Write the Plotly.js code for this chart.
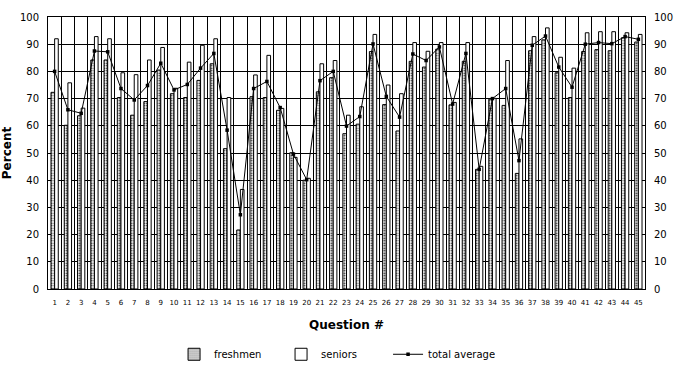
<!DOCTYPE html>
<html>
<head>
<meta charset="utf-8">
<script src="https://cdn.plot.ly/plotly-3.0.1.min.js"></script>
<style>html,body{margin:0;padding:0;background:#fff;}#chart{width:681px;height:381px;}</style>
</head>
<body>
<div id="chart"></div>
<script>
const questions = Array.from({length: 45}, (_, i) => String(i + 1));
const freshmen = [72.3, 60.2, 63.7, 84.2, 84.2, 70.4, 63.9, 68.9, 80.5, 71.8,
  70.4, 76.7, 82.8, 51.6, 21.7, 70.7, 70.4, 65.7, 50.1, 40.0,
  72.5, 77.7, 57.1, 60.6, 87.3, 67.8, 58.1, 83.7, 81.6, 88.2,
  67.7, 83.7, 44.0, 69.8, 67.5, 42.5, 87.6, 91.6, 79.5, 70.4,
  87.3, 88.0, 87.6, 92.4, 90.8];
const seniors = [92.0, 75.8, 66.5, 92.8, 92.0, 79.5, 78.8, 84.2, 88.8, 73.8,
  83.4, 89.6, 92.0, 70.4, 36.6, 78.7, 85.9, 66.4, 48.4, 40.7,
  82.8, 84.0, 63.9, 67.0, 93.6, 75.0, 71.8, 90.6, 87.4, 90.6,
  68.6, 90.6, 45.1, 70.1, 84.0, 55.2, 92.8, 96.0, 85.2, 81.2,
  94.2, 94.6, 94.6, 94.2, 93.6];
const totalAverage = [80.0, 65.9, 64.6, 87.5, 87.2, 73.7, 69.5, 74.8, 83.0, 73.2,
  75.2, 81.2, 86.6, 58.4, 27.3, 73.7, 76.3, 66.7, 49.6, 40.2,
  76.6, 80.0, 59.9, 63.4, 90.1, 70.8, 63.2, 86.4, 84.0, 89.0,
  68.0, 86.6, 44.0, 70.0, 73.7, 47.2, 89.6, 93.0, 81.6, 74.2,
  90.0, 90.6, 90.2, 92.8, 91.8];
const yTicks = [0, 10, 20, 30, 40, 50, 60, 70, 80, 90, 100];

const traces = [
  {type: 'bar', name: 'freshmen', x: questions, y: freshmen,
   marker: {color: '#ffffff', line: {color: '#000', width: 1},
            pattern: {shape: '.', size: 2.5, solidity: 0.3, fgcolor: '#000', bgcolor: '#fff'}}},
  {type: 'bar', name: 'seniors', x: questions, y: seniors,
   marker: {color: '#ffffff', line: {color: '#000', width: 1}}},
  {type: 'scatter', mode: 'lines+markers', name: 'total average', x: questions, y: totalAverage,
   line: {color: '#000', width: 1}, marker: {symbol: 'square', size: 3.5, color: '#000'}},
  {type: 'scatter', x: [questions[0]], y: [0], yaxis: 'y2', showlegend: false,
   mode: 'markers', marker: {opacity: 0, size: 1}, hoverinfo: 'skip'}
];

const layout = {
  width: 681, height: 381,
  margin: {l: 48, r: 36, t: 17, b: 87},
  paper_bgcolor: '#fff', plot_bgcolor: '#fff',
  font: {family: 'DejaVu Sans', color: '#000', size: 10},
  barmode: 'group', bargap: 0.45, bargroupgap: 0,
  showlegend: true,
  legend: {orientation: 'h', x: 0.48, xanchor: 'center', y: -0.24, yanchor: 'middle',
           font: {size: 10, family: 'DejaVu Sans'}, itemwidth: 30, entrywidth: 62,
           traceorder: 'normal'},
  xaxis: {type: 'category', range: [-0.5, 44.5], autorange: false, tickson: 'boundaries', ticks: '',
          showgrid: true, gridcolor: '#000', gridwidth: 1, showline: true, linecolor: '#000',
          mirror: true, tickfont: {size: 7}, tickangle: 0, automargin: false, ticklabelstandoff: 7,
          title: {text: 'Question #', font: {size: 12, family: 'DejaVu Sans', weight: 'bold'}, standoff: 14}},
  yaxis: {range: [0, 100], tickvals: yTicks, ticks: '', showgrid: true, gridcolor: '#000',
          gridwidth: 1, showline: true, linecolor: '#000', mirror: true, zeroline: false,
          tickfont: {size: 10}, automargin: false, ticklabelstandoff: 6,
          title: {text: 'Percent', font: {size: 12, family: 'DejaVu Sans', weight: 'bold'}, standoff: 8}},
  yaxis2: {range: [0, 100], tickvals: yTicks, overlaying: 'y', side: 'right', showgrid: false,
           zeroline: false, ticks: '', tickfont: {size: 10}, showline: false, automargin: false,
           ticklabelstandoff: 8}
};

Plotly.newPlot('chart', traces, layout, {staticPlot: true, displayModeBar: false});
</script>
</body>
</html>
